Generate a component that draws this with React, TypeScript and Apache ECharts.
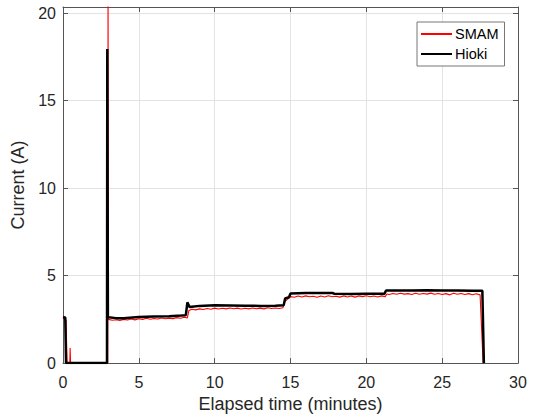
import React, { useEffect, useRef } from "react";
import * as echarts from "echarts";

const xTicks = [0, 5, 10, 15, 20, 25, 30];
const yTicks = [0, 5, 10, 15, 20];

const seriesNames = ["SMAM", "Hioki"];

const hiokiTime = [0, 0.15, 0.2, 2.9, 2.92, 2.96, 3.0, 3.5, 4.0, 5.0, 6.0, 7.0, 7.8, 8.1, 8.2, 8.35, 8.5, 9.0, 10.0, 11.0, 12.0, 13.0, 14.0, 14.55, 14.65, 14.9, 15.0, 16.0, 17.0, 17.8, 17.9, 19.0, 20.0, 21.2, 21.3, 22.0, 23.0, 24.0, 25.0, 26.0, 27.0, 27.65, 27.75];
const hiokiCurrent = [2.62, 2.6, 0, 0, 17.95, 2.66, 2.62, 2.57, 2.56, 2.63, 2.66, 2.68, 2.72, 2.74, 3.47, 3.2, 3.22, 3.27, 3.3, 3.29, 3.28, 3.27, 3.28, 3.3, 3.7, 3.76, 3.98, 4.0, 4.0, 4.0, 3.96, 3.95, 3.96, 3.97, 4.15, 4.15, 4.15, 4.16, 4.15, 4.15, 4.14, 4.13, 0];

const smamTime = [0, 0.1, 0.2, 0.27, 0.45, 0.47, 0.5, 2.95, 2.97, 3.0, 3.25, 3.5, 3.75, 4.0, 4.25, 4.5, 4.75, 5.0, 5.25, 5.5, 5.75, 6.0, 6.25, 6.5, 6.75, 7.0, 7.25, 7.5, 7.75, 8.0, 8.2, 8.3, 8.5, 8.75, 9.0, 9.25, 9.5, 9.75, 10.0, 10.25, 10.5, 10.75, 11.0, 11.25, 11.5, 11.75, 12.0, 12.25, 12.5, 12.75, 13.0, 13.25, 13.5, 13.75, 14.0, 14.25, 14.5, 14.6, 14.8, 15.0, 15.25, 15.5, 15.75, 16.0, 16.25, 16.5, 16.75, 17.0, 17.25, 17.5, 17.75, 18.0, 18.25, 18.5, 18.75, 19.0, 19.25, 19.5, 19.75, 20.0, 20.25, 20.5, 20.75, 21.0, 21.25, 21.35, 21.5, 21.75, 22.0, 22.25, 22.5, 22.75, 23.0, 23.25, 23.5, 23.75, 24.0, 24.25, 24.5, 24.75, 25.0, 25.25, 25.5, 25.75, 26.0, 26.25, 26.5, 26.75, 27.0, 27.25, 27.5, 27.7];
const smamCurrent = [2.55, 2.5, 2.45, 0, 0, 0.86, 0, 0, 21.5, 2.5, 2.45, 2.48, 2.44, 2.5, 2.46, 2.52, 2.47, 2.53, 2.5, 2.56, 2.51, 2.55, 2.52, 2.58, 2.53, 2.57, 2.54, 2.6, 2.56, 2.62, 2.58, 3.0, 3.08, 3.04, 3.1, 3.06, 3.12, 3.08, 3.14, 3.09, 3.13, 3.1, 3.15, 3.11, 3.14, 3.09, 3.13, 3.1, 3.15, 3.11, 3.14, 3.1, 3.16, 3.12, 3.15, 3.12, 3.16, 3.5, 3.65, 3.8, 3.76, 3.83, 3.78, 3.84, 3.79, 3.82, 3.76, 3.83, 3.78, 3.85, 3.79, 3.82, 3.77, 3.84, 3.78, 3.83, 3.77, 3.84, 3.8, 3.85, 3.79, 3.83, 3.78, 3.84, 3.8, 3.95, 3.92, 3.98, 3.93, 3.99, 3.94, 3.97, 3.92, 3.99, 3.93, 3.98, 3.94, 4.0, 3.93, 3.98, 3.92, 3.97, 3.9, 3.99, 3.93, 3.98, 3.92, 3.97, 3.91, 3.96, 3.9, 0];

const FONT = "'Liberation Sans', Arial, Helvetica, sans-serif";
const AXIS_COLOR = "#555555";
const TEXT_COLOR = "#262626";

export default function App() {
  const ref = useRef<HTMLDivElement>(null);
  useEffect(() => {
    if (!ref.current) return;
    const chart = echarts.init(ref.current, undefined, { renderer: "svg" });
    const xMin = xTicks[0];
    const xMax = xTicks[xTicks.length - 1];
    const yMin = yTicks[0];
    const yMax = 20.35;
    const fmt = (v: number) => (Math.abs(v % 5) < 1e-9 ? String(v) : "");
    const line = { show: true, onZero: false, lineStyle: { color: AXIS_COLOR, width: 1 } };
    const tick = { show: true, inside: true, length: 5, lineStyle: { color: AXIS_COLOR } };
    chart.setOption({
      animation: false,
      backgroundColor: "#ffffff",
      textStyle: { fontFamily: FONT },
      grid: { left: 63, right: 16, top: 7, bottom: 54, containLabel: false },
      legend: {
        orient: "vertical",
        left: 417,
        top: 22,
        data: [
          { name: seriesNames[0], icon: "rect", itemStyle: { color: "#ff0000" } },
          { name: seriesNames[1], icon: "rect", itemStyle: { color: "#000000" } },
        ],
        backgroundColor: "#ffffff",
        borderColor: "#777777",
        borderWidth: 1,
        padding: [4, 6, 4, 4],
        itemWidth: 31,
        itemHeight: 2,
        itemGap: 4,
        textStyle: { fontSize: 14.5, lineHeight: 16, color: "#000", fontFamily: FONT, padding: [0, 0, 0, -2] },
      },
      xAxis: [
        {
          type: "value",
          min: xMin,
          max: xMax,
          interval: 5,
          name: "Elapsed time (minutes)",
          nameLocation: "middle",
          nameGap: 29,
          nameTextStyle: { fontSize: 18, color: TEXT_COLOR, fontFamily: FONT },
          axisLine: line,
          axisTick: tick,
          axisLabel: { fontSize: 16, color: TEXT_COLOR, margin: 11, fontFamily: FONT },
          splitLine: { show: true, lineStyle: { color: "#e3e3e3", width: 1 } },
        },
        {
          type: "value",
          position: "top",
          min: xMin,
          max: xMax,
          interval: 5,
          axisLine: line,
          axisTick: tick,
          axisLabel: { show: false },
          splitLine: { show: false },
        },
      ],
      yAxis: [
        {
          type: "value",
          min: yMin,
          max: yMax,
          interval: 5,
          name: "Current (A)",
          nameLocation: "middle",
          nameGap: 29,
          nameRotate: 90,
          nameTextStyle: { fontSize: 18, color: TEXT_COLOR, fontFamily: FONT },
          axisLine: line,
          axisTick: tick,
          axisLabel: { fontSize: 16, color: TEXT_COLOR, margin: 7, fontFamily: FONT, formatter: fmt },
          splitLine: { show: true, lineStyle: { color: "#e3e3e3", width: 1 } },
        },
        {
          type: "value",
          position: "right",
          min: yMin,
          max: yMax,
          interval: 5,
          axisLine: line,
          axisTick: tick,
          axisLabel: { show: false },
          splitLine: { show: false },
        },
      ],
      series: [
        {
          name: seriesNames[0],
          type: "line",
          data: smamTime.map((t, i) => [t, smamCurrent[i]]),
          showSymbol: false,
          symbol: "none",
          clip: true,
          lineStyle: { color: "#ff0000", width: 1.1 },
          itemStyle: { color: "#ff0000" },
        },
        {
          name: seriesNames[1],
          type: "line",
          data: hiokiTime.map((t, i) => [t, hiokiCurrent[i]]),
          showSymbol: false,
          symbol: "none",
          clip: true,
          lineStyle: { color: "#000000", width: 2.5 },
          itemStyle: { color: "#000000" },
        },
      ],
    });
    return () => chart.dispose();
  }, []);
  return (
    <div
      ref={ref}
      style={{ position: "absolute", left: 0, top: 0, width: 534, height: 418 }}
    />
  );
}
